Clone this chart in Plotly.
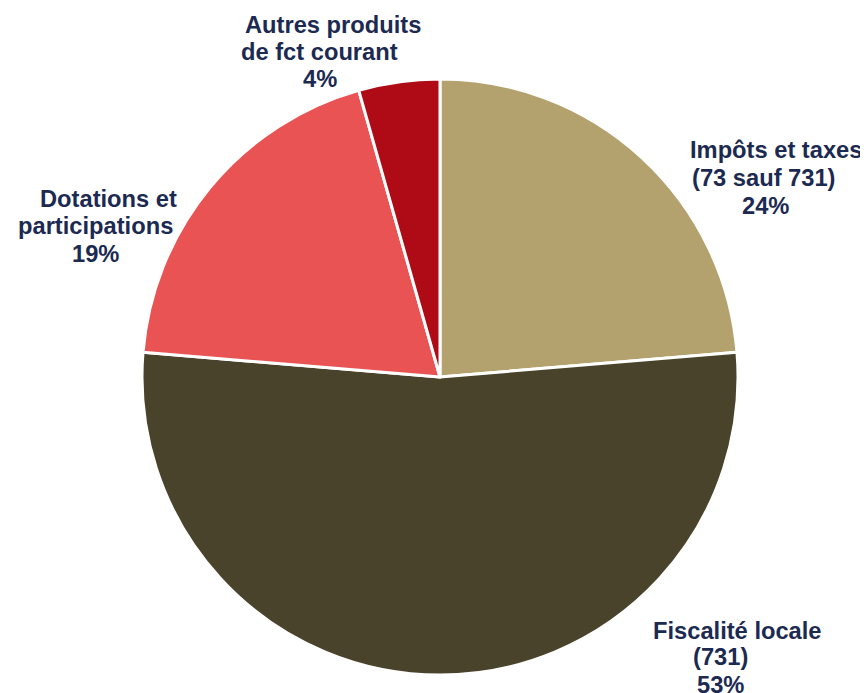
import plotly.graph_objects as go

categories = ["Impôts et taxes", "Fiscalité locale", "Dotations et participations", "Autres produits de fct courant"]
label_lines = [["Impôts et taxes", "(73 sauf 731)"],
               ["Fiscalité locale", "(731)"],
               ["Dotations et", "participations"],
               ["Autres produits", "de fct courant"]]
values = [23.7, 52.7, 19.3, 4.4]
colors = ["#B4A26E", "#4A432B", "#E95354", "#AE0B17"]

# per-line text centres in pixels (x, y) for each label block (name lines then percent)
line_pos = [
    [(776, 150), (764, 178), (765, 206)],
    [(737, 631), (720, 657), (720, 685)],
    [(108, 199), (95, 226), (95, 254)],
    [(333, 25), (319, 52), (320, 79)],
]

W, H = 868, 693
OFF = 8  # page body margin
cx, cy, r = 440, 377, 298


def px(x):
    return (x - OFF) / W


def py(y):
    return 1 - (y - OFF) / H


fig = go.Figure(go.Pie(
    labels=categories, values=values, sort=False, direction="clockwise", rotation=0,
    marker=dict(colors=colors, line=dict(color="white", width=3)),
    textinfo="none", hoverinfo="label+percent",
    domain=dict(x=[px(cx - r), px(cx + r)], y=[py(cy + r), py(cy - r)]),
))

total = sum(values)
for lines, v, pos in zip(label_lines, values, line_pos):
    texts = lines + [f"{round(v / total * 100)}%"]
    for t, (x, y) in zip(texts, pos):
        fig.add_annotation(
            x=px(x), y=py(y), xref="paper", yref="paper",
            text=f"<b>{t}</b>", showarrow=False,
            xanchor="center", yanchor="middle", align="center",
            font=dict(family="Liberation Sans, Arial", size=23.7, color="#1C2A52"),
        )

fig.update_layout(width=W, height=H, margin=dict(l=0, r=0, t=0, b=0),
                  showlegend=False, paper_bgcolor="white", plot_bgcolor="white")
fig.write_html("out.html")
